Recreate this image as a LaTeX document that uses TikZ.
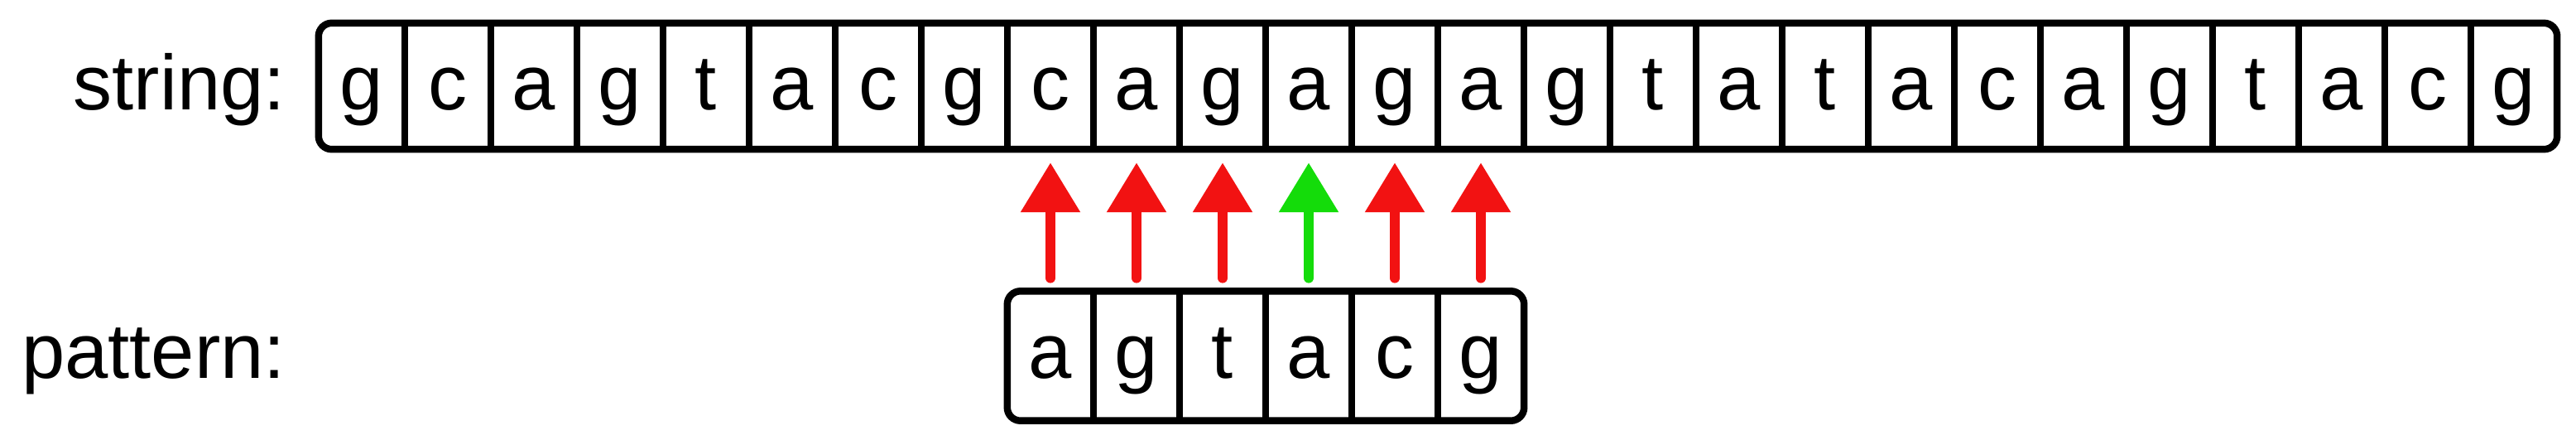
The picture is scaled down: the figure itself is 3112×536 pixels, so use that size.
\documentclass[tikz,border=0pt]{standalone}
\usepackage{fontspec}
\setmainfont{Liberation Sans}
\usetikzlibrary{arrows.meta}
\definecolor{mred}{RGB}{242,18,18}
\definecolor{mgreen}{RGB}{20,220,10}
\begin{document}
\begin{tikzpicture}[x=1pt,y=-1pt,
  cell/.style={minimum width=104pt,minimum height=152pt,inner sep=0pt,
    text height=70pt,text depth=14pt,font=\fontsize{94}{94}\selectfont},
  pcell/.style={cell,minimum height=156pt,text height=68pt,text depth=15pt},
  frame/.style={line width=8.5pt,rounded corners=16pt},
  divider/.style={line width=8.5pt},
  lbl/.style={font=\fontsize{94}{94}\selectfont,anchor=base east,inner sep=0pt},
  arr/.style={line width=12.5pt,line cap=round,
    -{Triangle[length=60pt,width=69pt]},shorten <=16pt,shorten >=16pt}]
\useasboundingbox (0,0) rectangle (3112,536);
% string
\foreach \c [count=\i from 0] in {g,c,a,g,t,a,c,g,c,a,g,a,g,a,g,t,a,t,a,c,a,g,t,a,c,g}
  {\node[cell] (s\i) at ({437+104*\i},104) {\c};}
\draw[frame] (s0.north west) rectangle (s25.south east);
\foreach \i in {0,...,24} \draw[divider] (s\i.north east) -- (s\i.south east);
% pattern
\foreach \c [count=\i from 0] in {a,g,t,a,c,g}
  {\node[pcell] (p\i) at ({1269+104*\i},429.5) {\c};}
\draw[frame] (p0.north west) rectangle (p5.south east);
\foreach \i in {0,...,4} \draw[divider] (p\i.north east) -- (p\i.south east);
% labels
\node[lbl] (lstring) at (345,132) {string:};
\node[lbl] (lpattern) at (345,456) {pattern:};
% arrows
\foreach \i/\col in {0/mred,1/mred,2/mred,3/mgreen,4/mred,5/mred}
  {\pgfmathtruncatemacro\j{\i+8}
   \draw[arr,\col] (p\i.north) -- (s\j.south);}
\end{tikzpicture}
\end{document}
